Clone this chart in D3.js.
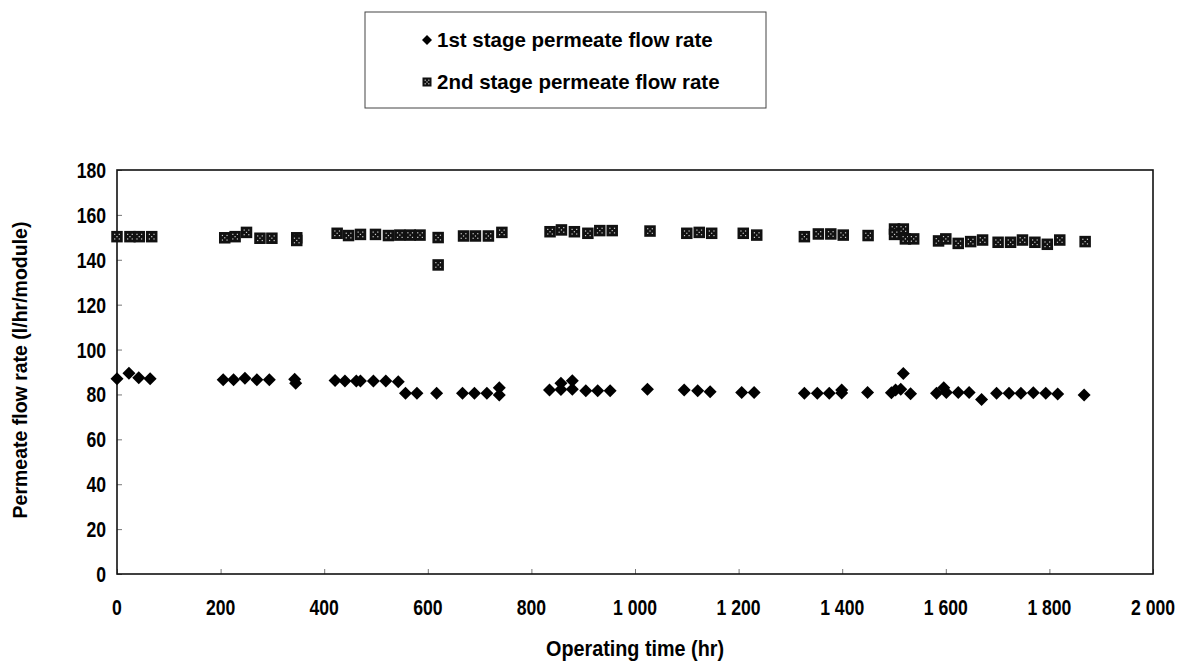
<!DOCTYPE html>
<html>
<head>
<meta charset="utf-8">
<script src="https://cdn.jsdelivr.net/npm/d3@7"></script>
<style>
  body { margin: 0; background: #fff; }
  svg { display: block; }
</style>
</head>
<body>
<div id="chart"></div>
<script>
// 1st stage permeate flow rate (operating time in hr, l/hr/module)
const stage1Hours = [0, 23, 42, 64, 205, 225, 247, 270, 294, 343, 345, 421, 440, 462, 470, 495, 519, 543,
  557, 579, 617, 667, 690, 714, 738, 738, 835, 857, 857, 879, 879, 905, 928, 952, 1024, 1095, 1121, 1145,
  1206, 1230, 1327, 1352, 1375, 1399, 1399, 1449, 1495, 1503, 1513, 1518, 1532, 1582, 1596, 1601, 1624,
  1645, 1669, 1698, 1722, 1745, 1769, 1793, 1816, 1867];
const stage1Flow = [87.0, 89.4, 87.4, 87.0, 86.5, 86.5, 87.2, 86.5, 86.5, 86.8, 85.0, 86.2, 86.0, 86.0, 86.0, 86.0, 86.0, 85.7,
  80.5, 80.5, 80.5, 80.5, 80.5, 80.5, 83.0, 79.8, 82.0, 85.0, 82.2, 86.1, 82.3, 81.7, 81.7, 81.7, 82.3, 82.0, 81.7, 81.2,
  80.9, 80.9, 80.5, 80.5, 80.5, 82.0, 80.6, 80.9, 80.8, 82.0, 82.3, 89.3, 80.3, 80.5, 83.0, 80.9, 80.9,
  80.9, 77.8, 80.5, 80.5, 80.5, 80.8, 80.5, 80.2, 79.8];

// 2nd stage permeate flow rate
const stage2Hours = [0, 25, 43, 67, 208, 228, 250, 276, 299, 347, 347, 425, 447, 470, 499, 524, 546, 566, 585,
  620, 620, 669, 692, 717, 743, 836, 858, 883, 909, 932, 956, 1029, 1100, 1124, 1148, 1209, 1235, 1327, 1354,
  1378, 1402, 1450, 1501, 1518, 1501, 1522, 1538, 1586, 1600, 1624, 1648, 1671, 1701, 1725, 1748, 1772, 1796,
  1820, 1869];
const stage2Flow = [150.3, 150.3, 150.3, 150.3, 149.8, 150.3, 152.2, 149.6, 149.6, 149.8, 148.6, 151.8, 150.8, 151.3, 151.3, 150.8, 151.0, 151.0, 151.0,
  149.9, 137.7, 150.6, 150.6, 150.6, 152.2, 152.5, 153.3, 152.5, 151.8, 153.0, 153.0, 152.8, 151.8, 152.2, 151.8, 151.8, 151.0, 150.3, 151.5,
  151.5, 151.0, 150.8, 153.7, 153.7, 151.3, 149.3, 149.3, 148.4, 149.3, 147.3, 148.1, 148.8, 147.8, 147.8, 148.8, 147.8, 146.9,
  148.8, 148.1];

const xTicks = [0, 200, 400, 600, 800, 1000, 1200, 1400, 1600, 1800, 2000];
const yTicks = [0, 20, 40, 60, 80, 100, 120, 140, 160, 180];
const seriesNames = ["1st stage permeate flow rate", "2nd stage permeate flow rate"];

const width = 1178;
const height = 661;
const plotLeft = 117, plotRight = 1153, plotTop = 170, plotBottom = 574;
const diamondR = 6.5;
const squareSize = 11.5;
const textFont = "'Liberation Sans', Arial, sans-serif";
const squeeze = 0.8; // scanned labels use a condensed face

const svg = d3.select("#chart").append("svg")
  .attr("width", width)
  .attr("height", height);

const x = d3.scaleLinear().domain([0, 2000]).range([plotLeft, plotRight]);
const y = d3.scaleLinear().domain([0, 180]).range([plotBottom, plotTop]);

function diamondPath(cx, cy, r) {
  return `M${cx},${cy - r}L${cx + r},${cy}L${cx},${cy + r}L${cx - r},${cy}Z`;
}

// draws a dark square with a speckled white centre, like the scanned marker
function drawSquare(g, cx, cy, s) {
  g.append("rect")
    .attr("x", cx - s / 2).attr("y", cy - s / 2)
    .attr("width", s).attr("height", s)
    .attr("fill", "#111");
  const d = s * 0.2;
  [[-d, -d], [d, -d], [0, 0], [-d, d], [d, d]].forEach(([dx, dy]) => {
    g.append("rect")
      .attr("x", cx + dx - 0.6).attr("y", cy + dy - 0.6)
      .attr("width", 1.2).attr("height", 1.2)
      .attr("fill", "#cfcfcf");
  });
}

function thousands(v) {
  if (v < 1000) return String(v);
  return Math.floor(v / 1000) + " " + String(v % 1000).padStart(3, "0");
}

// axes (ticks point into the plot)
const yAxis = svg.append("g")
  .attr("transform", `translate(${plotLeft},0)`)
  .call(d3.axisRight(y).tickValues(yTicks).tickSize(5).tickFormat(""));
yAxis.select(".domain").remove();
yAxis.selectAll(".tick line").attr("stroke", "#777").attr("stroke-width", 1);

const xAxis = svg.append("g")
  .attr("transform", `translate(0,${plotBottom})`)
  .call(d3.axisTop(x).tickValues(xTicks).tickSize(5).tickFormat(""));
xAxis.select(".domain").remove();
xAxis.selectAll(".tick line").attr("stroke", "#777").attr("stroke-width", 1);

// tick labels
svg.append("g").selectAll("text")
  .data(yTicks)
  .enter().append("text")
  .attr("transform", d => `translate(${plotLeft - 11},${y(d) + 8}) scale(${squeeze},1)`)
  .attr("text-anchor", "end")
  .style("font-family", textFont)
  .style("font-weight", "bold")
  .style("font-size", "22px")
  .text(d => d);

svg.append("g").selectAll("text")
  .data(xTicks)
  .enter().append("text")
  .attr("transform", d => `translate(${x(d)},${plotBottom + 41}) scale(${squeeze},1)`)
  .attr("text-anchor", "middle")
  .style("font-family", textFont)
  .style("font-weight", "bold")
  .style("font-size", "22px")
  .text(d => thousands(d));

// plot frame
svg.append("rect")
  .attr("x", plotLeft).attr("y", plotTop)
  .attr("width", plotRight - plotLeft).attr("height", plotBottom - plotTop)
  .attr("fill", "none")
  .attr("stroke", "#111")
  .attr("stroke-width", 1.6);

// axis titles
svg.append("text")
  .attr("transform", `translate(27,${(plotTop + plotBottom) / 2 - 2}) rotate(-90)`)
  .attr("text-anchor", "middle")
  .style("font-family", textFont)
  .style("font-weight", "bold")
  .style("font-size", "19.5px")
  .text("Permeate flow rate (l/hr/module)");

svg.append("text")
  .attr("transform", `translate(635,656) scale(0.9,1)`)
  .attr("text-anchor", "middle")
  .style("font-family", textFont)
  .style("font-weight", "bold")
  .style("font-size", "22px")
  .text("Operating time (hr)");

// data: 2nd stage squares
const stage2 = stage2Hours.map((h, i) => ({ h: h, v: stage2Flow[i] }));
const sqLayer = svg.append("g").attr("class", "stage2");
stage2.forEach(p => drawSquare(sqLayer, x(p.h), y(p.v), squareSize));

// data: 1st stage diamonds
const stage1 = stage1Hours.map((h, i) => ({ h: h, v: stage1Flow[i] }));
svg.append("g").selectAll(".diamond")
  .data(stage1)
  .enter().append("path")
  .attr("class", "diamond")
  .attr("d", p => diamondPath(x(p.h), y(p.v), diamondR))
  .attr("fill", "#000");

// legend
const legend = svg.append("g");
legend.append("rect")
  .attr("x", 365).attr("y", 12)
  .attr("width", 401).attr("height", 96)
  .attr("fill", "#fff")
  .attr("stroke", "#444")
  .attr("stroke-width", 1);
legend.append("path")
  .attr("d", diamondPath(427, 40, 5))
  .attr("fill", "#000");
drawSquare(legend, 427, 82, 9);
legend.selectAll(".legend-label")
  .data(seriesNames)
  .enter().append("text")
  .attr("class", "legend-label")
  .attr("x", 437)
  .attr("y", (d, i) => 47 + i * 42)
  .style("font-family", textFont)
  .style("font-weight", "bold")
  .style("font-size", "20.5px")
  .text(d => d);
</script>
</body>
</html>
